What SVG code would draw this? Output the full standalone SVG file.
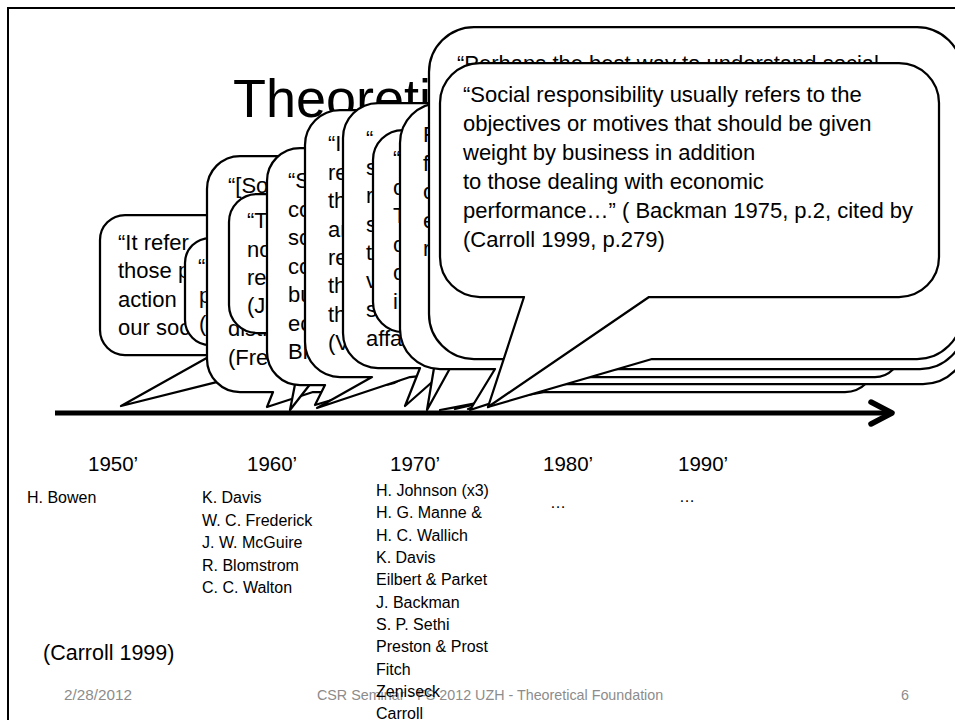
<svg xmlns="http://www.w3.org/2000/svg" width="955" height="720" viewBox="0 0 955 720">
<style>
.box{fill:#fff;stroke:#000;stroke-width:2.25;stroke-linejoin:round}
text{font-family:"Liberation Sans",Arial,sans-serif;fill:#000}
.t{font-size:22px}
.ttl{font-size:54px}
.yr{font-size:20.5px}
.nm{font-size:16px}
.ft{font-size:14.3px;fill:#8c8c8c}
</style>
<rect x="0" y="0" width="955" height="720" fill="#fff"/>
<rect x="8" y="8" width="1000" height="1000" fill="none" stroke="#000" stroke-width="2"/>
<g id="title"><text class="ttl" x="233" y="117">Theoretical Foundation</text></g>

<g id="c1">
<path class="box" d="M125,215 H325 A25,25 0 0 1 350,240 V330 A25,25 0 0 1 325,355 L121,406 L212,355 H125 A25,25 0 0 1 100,330 V240 A25,25 0 0 1 125,215 Z"/>
<text class="t"><tspan x="118" y="250">“It refer</tspan><tspan x="118" y="278">those p</tspan><tspan x="118" y="307">action</tspan><tspan x="118" y="335">our soc</tspan></text>
</g>
<g id="c2">
<path class="box" d="M210,238 H305 A25,25 0 0 1 330,263 V320 A25,25 0 0 1 305,345 H210 A25,25 0 0 1 185,320 V263 A25,25 0 0 1 210,238 Z"/>
<text class="t"><tspan x="198" y="274">“</tspan><tspan x="199" y="303">p</tspan><tspan x="199" y="331">(</tspan></text>
</g>
<g id="c3">
<path class="box" d="M240,156 H327 A33,33 0 0 1 360,189 V359 A33,33 0 0 1 327,392 H313 L267,407 L273,392 H240 A33,33 0 0 1 207,359 V189 A33,33 0 0 1 240,156 Z"/>
<text class="t"><tspan x="228" y="193">“[So</tspan><tspan x="228" y="336">distr</tspan><tspan x="228" y="365">(Fred</tspan></text>
</g>
<g id="c4">
<path class="box" d="M257,194 H357 A28,28 0 0 1 385,222 V305 A28,28 0 0 1 357,333 H350 L290,410 L305,333 H257 A28,28 0 0 1 229,305 V222 A28,28 0 0 1 257,194 Z"/>
<text class="t"><tspan x="247" y="228">“T</tspan><tspan x="247" y="257">no</tspan><tspan x="247" y="285">re</tspan><tspan x="247" y="313">(Jo</tspan></text>
</g>
<g id="c5">
<path class="box" d="M300,148 H382 A33,33 0 0 1 415,181 V352 A33,33 0 0 1 382,385 L315,405 L325,385 H300 A33,33 0 0 1 267,352 V181 A33,33 0 0 1 300,148 Z"/>
<text class="t"><tspan x="288" y="188">“S</tspan><tspan x="288" y="217">co</tspan><tspan x="288" y="245">so</tspan><tspan x="288" y="274">co</tspan><tspan x="288" y="302">bu</tspan><tspan x="288" y="331">ec</tspan><tspan x="288" y="359">Bl</tspan></text>
</g>
<g id="c6">
<path class="box" d="M340,110 H410 A35,35 0 0 1 445,145 V342 A35,35 0 0 1 410,377 L317,408 L372,377 H340 A35,35 0 0 1 305,342 V145 A35,35 0 0 1 340,110 Z"/>
<text class="t"><tspan x="328" y="151">“I</tspan><tspan x="328" y="180">re</tspan><tspan x="328" y="208">th</tspan><tspan x="328" y="237">ar</tspan><tspan x="328" y="265">re</tspan><tspan x="328" y="293">th</tspan><tspan x="328" y="322">th</tspan><tspan x="328" y="350">(V</tspan></text>
</g>
<g id="c7">
<path class="box" d="M378,103 H455 A35,35 0 0 1 490,138 V333 A35,35 0 0 1 455,368 H448 L405,406 L420,368 H378 A35,35 0 0 1 343,333 V138 A35,35 0 0 1 378,103 Z"/>
<text class="t"><tspan x="366" y="146">“</tspan><tspan x="366" y="175">s</tspan><tspan x="366" y="203">r</tspan><tspan x="366" y="232">s</tspan><tspan x="366" y="260">t</tspan><tspan x="366" y="288">v</tspan><tspan x="366" y="317">s</tspan><tspan x="366" y="346">affa</tspan></text>
</g>
<g id="c8">
<path class="box" d="M403,130 H470 A30,30 0 0 1 500,160 V302 A30,30 0 0 1 470,332 L427,410 L440,332 H403 A30,30 0 0 1 373,302 V160 A30,30 0 0 1 403,130 Z"/>
<text class="t"><tspan x="393" y="166">“</tspan><tspan x="393" y="195">o</tspan><tspan x="393" y="223">T</tspan><tspan x="393" y="252">o</tspan><tspan x="393" y="280">o</tspan><tspan x="393" y="309">i</tspan></text>
</g>
<g id="c10e">
<path class="box" d="M535,45 H845 A30,30 0 0 1 875,75 V362 A30,30 0 0 1 845,392 H545 L440,410 L535,392 A30,30 0 0 1 505,362 V75 A30,30 0 0 1 535,45 Z"/>
</g>
<g id="c10d">
<path class="box" d="M550,40 H923 A45,45 0 0 1 968,85 V339 A45,45 0 0 1 923,384 H563 L455,409 L550,384 A40,40 0 0 1 510,344 V80 A40,40 0 0 1 550,40 Z"/>
</g>
<g id="c10c">
<path class="box" d="M540,35 H875 A25,25 0 0 1 900,60 V352 A25,25 0 0 1 875,377 H577 L468,409 L550,377 H540 A25,25 0 0 1 515,352 V60 A25,25 0 0 1 540,35 Z"/>
</g>
<g id="c9">
<path class="box" d="M440,103 H920 A45,45 0 0 1 965,148 V324 A45,45 0 0 1 920,369 H596 L470,410 L495,369 H440 A40,40 0 0 1 400,329 V143 A40,40 0 0 1 440,103 Z"/>
<text class="t"><tspan x="423" y="142">F</tspan><tspan x="423" y="171">f</tspan><tspan x="423" y="199">o</tspan><tspan x="423" y="228">e</tspan><tspan x="423" y="256">r</tspan></text>
</g>
<g id="c11">
<path class="box" d="M474,27 H917 A45,45 0 0 1 962,72 V314 A45,45 0 0 1 917,359 H652 L488,407 L540,359 H474 A45,45 0 0 1 429,314 V72 A45,45 0 0 1 474,27 Z"/>
<text class="t" x="457" y="71">“Perhaps the best way to understand social</text>
</g>
<g id="front">
<path class="box" d="M480,63 H899 A40,40 0 0 1 939,103 V257 A40,40 0 0 1 899,297 H649 L488,407 L524,297 H480 A40,40 0 0 1 440,257 V103 A40,40 0 0 1 480,63 Z"/>
<text class="t"><tspan x="463" y="102">“Social responsibility usually refers to the</tspan><tspan x="463" y="131">objectives or motives that should be given</tspan><tspan x="463" y="160">weight by business in addition</tspan><tspan x="463" y="189">to those dealing with economic</tspan><tspan x="463" y="218">performance…” ( Backman 1975, p.2, cited by</tspan><tspan x="463" y="247">(Carroll 1999, p.279)</tspan></text>
</g>

<g id="connectors">
<line x1="55" y1="413" x2="889" y2="413" stroke="#000" stroke-width="5"/>
<polyline points="871,402 892,413 871,424" fill="none" stroke="#000" stroke-width="5.5" stroke-linecap="round" stroke-linejoin="round"/>
</g>

<g id="footer">
<text class="ft" x="64" y="700" style="font-size:15.3px">2/28/2012</text>
<text class="ft" x="317" y="700">CSR Seminar - FS 2012 UZH - Theoretical Foundation</text>
<text class="ft" x="901" y="700">6</text>
</g>

<g id="years">
<text class="yr" x="88" y="471">1950’</text>
<text class="yr" x="247" y="471">1960’</text>
<text class="yr" x="390" y="471">1970’</text>
<text class="yr" x="543" y="471">1980’</text>
<text class="yr" x="678" y="471">1990’</text>
</g>
<g id="names">
<text class="nm" x="27" y="503">H. Bowen</text>
<text class="nm"><tspan x="202" y="503">K. Davis</tspan><tspan x="202" y="526">W. C. Frederick</tspan><tspan x="202" y="548">J. W. McGuire</tspan><tspan x="202" y="571">R. Blomstrom</tspan><tspan x="202" y="593">C. C. Walton</tspan></text>
<text class="nm"><tspan x="376" y="496">H. Johnson (x3)</tspan><tspan x="376" y="518">H. G. Manne &amp;</tspan><tspan x="376" y="541">H. C. Wallich</tspan><tspan x="376" y="563">K. Davis</tspan><tspan x="376" y="585">Eilbert &amp; Parket</tspan><tspan x="376" y="608">J. Backman</tspan><tspan x="376" y="630">S. P. Sethi</tspan><tspan x="376" y="652">Preston &amp; Prost</tspan><tspan x="376" y="675">Fitch</tspan><tspan x="376" y="697">Zeniseck</tspan><tspan x="376" y="719">Carroll</tspan></text>
<text class="nm" x="550" y="508">…</text>
<text class="nm" x="679" y="502">…</text>
</g>
<g id="source"><text x="43" y="660" style="font-size:21.5px">(Carroll 1999)</text></g>
</svg>
